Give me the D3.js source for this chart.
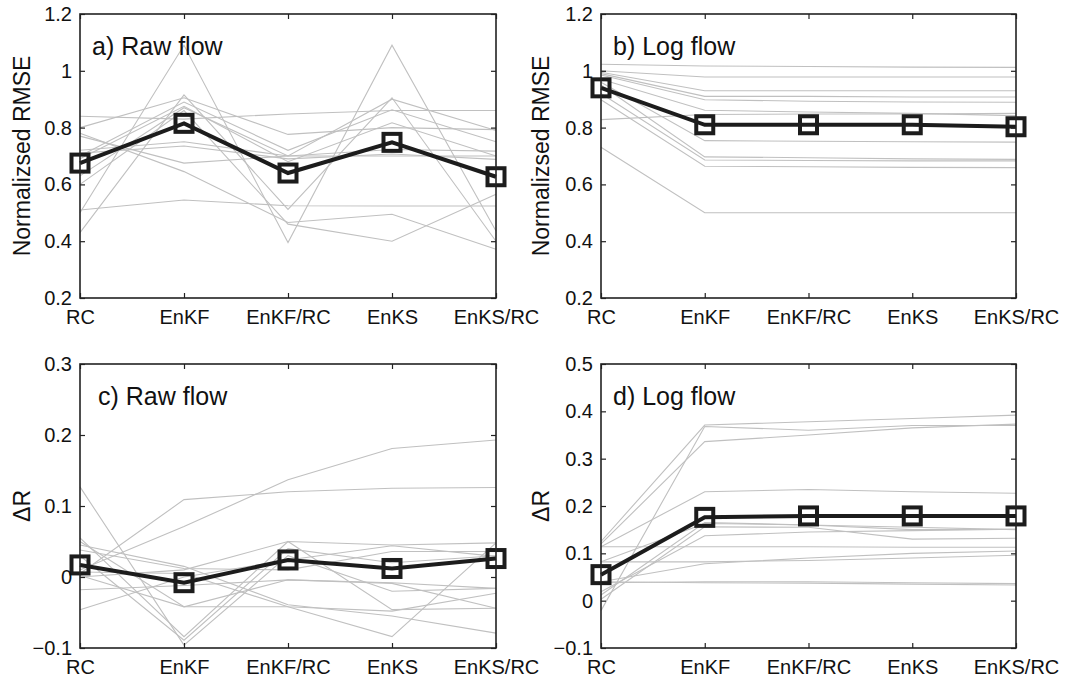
<!DOCTYPE html>
<html>
<head>
<meta charset="utf-8">
<script src="https://cdn.jsdelivr.net/npm/d3@7"></script>
<style>
  body { margin: 0; background: #fff; }
  svg text { font-family: "Liberation Sans", Arial, sans-serif; fill: #111; }
</style>
</head>
<body>
<script>
// categories on the x axis
let categories = ["RC", "EnKF", "EnKF/RC", "EnKS", "EnKS/RC"];

// a) Raw flow, normalized RMSE (grey = single sites, mean = black)
let rmseRaw = [
  [0.50, 1.09, 0.395, 1.09, 0.436],
  [0.43, 0.915, 0.512, 0.905, 0.40],
  [0.84, 0.83, 0.848, 0.86, 0.86],
  [0.80, 0.905, 0.776, 0.80, 0.793],
  [0.78, 0.645, 0.466, 0.495, 0.372],
  [0.77, 0.675, 0.70, 0.70, 0.70],
  [0.72, 0.75, 0.70, 0.723, 0.717],
  [0.71, 0.735, 0.69, 0.707, 0.688],
  [0.70, 0.89, 0.72, 0.863, 0.75],
  [0.69, 0.875, 0.68, 0.817, 0.70],
  [0.63, 0.87, 0.70, 0.90, 0.79],
  [0.51, 0.545, 0.525, 0.524, 0.524],
  [0.60, 0.86, 0.46, 0.40, 0.565]
];
let rmseRawMean = [0.675, 0.815, 0.64, 0.748, 0.627];

// b) Log flow, normalized RMSE
let rmseLog = [
  [1.023, 1.017, 1.015, 1.013, 1.012],
  [1.00, 0.978, 0.978, 0.978, 0.978],
  [0.995, 0.93, 0.93, 0.93, 0.93],
  [0.99, 0.91, 0.91, 0.908, 0.908],
  [0.985, 0.898, 0.893, 0.89, 0.889],
  [0.97, 0.861, 0.855, 0.85, 0.842],
  [0.828, 0.846, 0.848, 0.848, 0.85],
  [0.96, 0.754, 0.752, 0.75, 0.749],
  [0.95, 0.697, 0.694, 0.69, 0.688],
  [0.92, 0.686, 0.684, 0.683, 0.683],
  [0.898, 0.664, 0.662, 0.66, 0.659],
  [0.731, 0.50, 0.50, 0.50, 0.50]
];
let rmseLogMean = [0.94, 0.81, 0.81, 0.81, 0.803];

// c) Raw flow, delta R
let drRaw = [
  [0.01, 0.071, 0.137, 0.181, 0.193],
  [0.005, 0.109, 0.12, 0.125, 0.126],
  [0.127, -0.096, 0.03, -0.02, -0.016],
  [0.055, -0.084, 0.05, -0.046, -0.044],
  [0.05, -0.042, -0.042, -0.084, 0.048],
  [0.045, 0.015, -0.039, -0.055, -0.079],
  [0.038, 0.012, 0.01, 0.036, 0.036],
  [0.0, 0.01, 0.05, 0.045, 0.048],
  [-0.018, -0.012, -0.004, -0.008, -0.016],
  [-0.046, 0.0, 0.024, 0.044, 0.029],
  [0.007, 0.005, -0.042, -0.048, -0.023],
  [0.002, -0.042, -0.004, -0.009, -0.044],
  [0.03, -0.089, 0.04, 0.02, 0.03]
];
let drRawMean = [0.017, -0.008, 0.024, 0.012, 0.026];

// d) Log flow, delta R
let drLog = [
  [0.125, 0.371, 0.378, 0.385, 0.392],
  [-0.021, 0.368, 0.36, 0.37, 0.37],
  [0.12, 0.336, 0.35, 0.365, 0.373],
  [0.114, 0.230, 0.235, 0.23, 0.227],
  [0.114, 0.114, 0.114, 0.113, 0.113],
  [0.082, 0.163, 0.16, 0.15, 0.151],
  [0.003, 0.156, 0.155, 0.13, 0.132],
  [0.019, 0.137, 0.145, 0.148, 0.151],
  [0.012, 0.165, 0.16, 0.155, 0.15],
  [0.082, 0.082, 0.085, 0.09, 0.096],
  [0.04, 0.078, 0.09, 0.10, 0.105],
  [0.040, 0.038, 0.037, 0.035, 0.033],
  [0.038, 0.040, 0.040, 0.038, 0.036]
];
let drLogMean = [0.055, 0.176, 0.179, 0.179, 0.179];

// tick values
let rmseTicks = [0.2, 0.4, 0.6, 0.8, 1, 1.2];
let drRawTicks = [-0.1, 0, 0.1, 0.2, 0.3];
let drLogTicks = [-0.1, 0, 0.1, 0.2, 0.3, 0.4, 0.5];

let svg = d3.select("body").append("svg")
  .attr("width", 1066)
  .attr("height", 679);

let panels = [
  { title: "a) Raw flow", ylab: "Normalizsed RMSE", lines: rmseRaw, mean: rmseRawMean,
    ticks: rmseTicks, x0: 80, x1: 496, y0: 14, y1: 298, labX: 22, tx: 92, ty: 55 },
  { title: "b) Log flow", ylab: "Normalizsed RMSE", lines: rmseLog, mean: rmseLogMean,
    ticks: rmseTicks, x0: 601, x1: 1016, y0: 14, y1: 298, labX: 541, tx: 613, ty: 55 },
  { title: "c) Raw flow", ylab: "ΔR", lines: drRaw, mean: drRawMean,
    ticks: drRawTicks, x0: 80, x1: 496, y0: 364, y1: 648, labX: 22, tx: 98, ty: 405 },
  { title: "d) Log flow", ylab: "ΔR", lines: drLog, mean: drLogMean,
    ticks: drLogTicks, x0: 601, x1: 1016, y0: 364, y1: 648, labX: 541, tx: 613, ty: 405 }
];

let fmt = v => (v < 0 ? "\u2212" : "") + d3.format("~g")(Math.abs(+v.toFixed(2)));

panels.forEach(p => {
  let x = d3.scalePoint().domain(categories).range([p.x0, p.x1]).padding(0);
  let y = d3.scaleLinear().domain(d3.extent(p.ticks)).range([p.y1, p.y0]);
  let g = svg.append("g");

  let line = d3.line()
    .x((d, i) => x(categories[i]))
    .y(d => y(d));

  // grey site lines
  g.selectAll(".site").data(p.lines).enter()
    .append("path")
    .attr("class", "site")
    .attr("d", line)
    .attr("fill", "none")
    .attr("stroke", "#c0c0c0")
    .attr("stroke-width", 1.1);

  // mean line
  g.append("path")
    .attr("d", line(p.mean))
    .attr("fill", "none")
    .attr("stroke", "#1c1c1c")
    .attr("stroke-width", 4);

  g.selectAll(".mk").data(p.mean).enter()
    .append("rect")
    .attr("class", "mk")
    .attr("x", (d, i) => x(categories[i]) - 8.5)
    .attr("y", d => y(d) - 8.5)
    .attr("width", 17)
    .attr("height", 17)
    .attr("fill", "none")
    .attr("stroke", "#1c1c1c")
    .attr("stroke-width", 4);

  // axes: ticks inward on all four sides
  let tk = 5;
  g.append("g").attr("transform", `translate(0,${p.y1})`)
    .call(d3.axisBottom(x).tickSize(-tk).tickPadding(9))
    .call(a => a.select(".domain").remove())
    .call(a => a.selectAll("text").attr("font-size", 20).attr("dy", "0.85em"));
  g.append("g").attr("transform", `translate(0,${p.y0})`)
    .call(d3.axisTop(x).tickSize(-tk).tickFormat(""))
    .call(a => a.select(".domain").remove());
  g.append("g").attr("transform", `translate(${p.x0},0)`)
    .call(d3.axisLeft(y).tickValues(p.ticks).tickSize(-tk).tickPadding(8).tickFormat(fmt))
    .call(a => a.select(".domain").remove())
    .call(a => a.selectAll("text").attr("font-size", 20));
  g.append("g").attr("transform", `translate(${p.x1},0)`)
    .call(d3.axisRight(y).tickValues(p.ticks).tickSize(-tk).tickFormat(""))
    .call(a => a.select(".domain").remove());
  g.selectAll(".tick line").attr("stroke", "#222").attr("stroke-width", 1.2);

  g.append("rect")
    .attr("x", p.x0).attr("y", p.y0)
    .attr("width", p.x1 - p.x0).attr("height", p.y1 - p.y0)
    .attr("fill", "none")
    .attr("stroke", "#222")
    .attr("stroke-width", 1.6);

  g.append("text")
    .attr("x", p.tx).attr("y", p.ty)
    .attr("font-size", 25)
    .text(p.title);

  g.append("text")
    .attr("transform", `translate(${p.labX},${(p.y0 + p.y1) / 2}) rotate(-90)`)
    .attr("text-anchor", "middle")
    .attr("dy", "0.35em")
    .attr("font-size", 23)
    .text(p.ylab);
});
</script>
</body>
</html>
